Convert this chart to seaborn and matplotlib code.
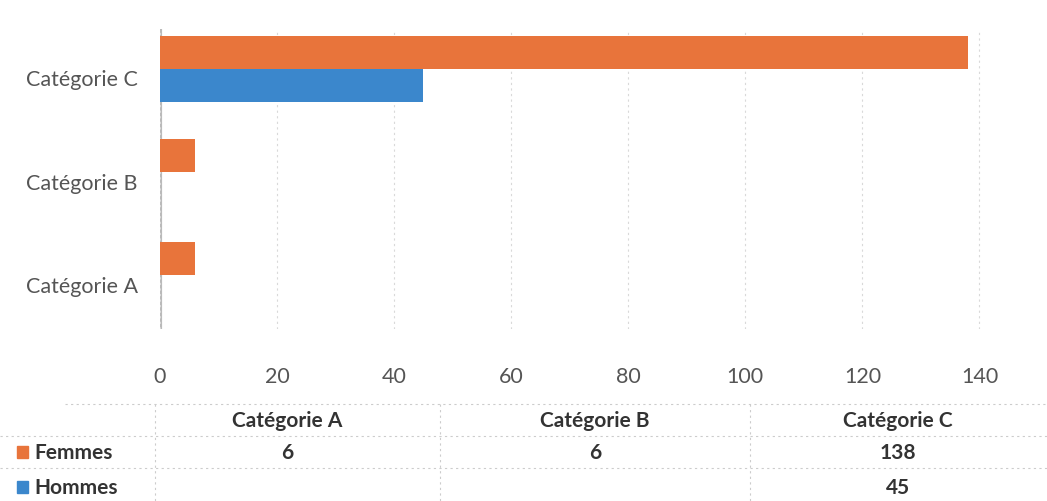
import matplotlib
matplotlib.use("Agg")
import matplotlib.pyplot as plt
import seaborn as sns
import pandas as pd
import numpy as np
from matplotlib.patches import Rectangle
from matplotlib.lines import Line2D

categories = ["Catégorie C", "Catégorie B", "Catégorie A"]
femmes = [138, 6, 6]
hommes = [45, np.nan, np.nan]
series = ["Femmes", "Hommes"]
xticks = [0, 20, 40, 60, 80, 100, 120, 140]
table_cols = ["Catégorie A", "Catégorie B", "Catégorie C"]
table_femmes = ["6", "6", "138"]
table_hommes = ["", "", "45"]

orange = "#E8743B"
blue = "#3B87CC"

df = pd.DataFrame({
    "cat": categories * 2,
    "val": femmes + hommes,
    "serie": ["Femmes"] * 3 + ["Hommes"] * 3,
})

sns.set_theme(style="white")
plt.rcParams["font.family"] = ["Lato", "DejaVu Sans"]

fig = plt.figure(figsize=(10.47, 5.02), dpi=100)
W, H = 1047, 502
ax = fig.add_axes([160 / W, 1 - 330 / H, (997 - 160) / W, 300 / H])

sns.barplot(data=df, x="val", y="cat", hue="serie", order=categories,
            hue_order=series, palette=[orange, blue], orient="h",
            width=0.64, ax=ax, legend=False, saturation=1)
for p in ax.patches:
    p.set_edgecolor("none")

ax.set_xlim(0, 143)
ax.set_ylim(2.52, -0.39)
ax.set_xticks(xticks)
ax.set_xticklabels([str(t) for t in xticks])
ax.set_yticks([0.08, 1.08, 2.08])
ax.set_yticklabels(categories)
ax.tick_params(axis="x", labelsize=15.5, colors="#555555", pad=27, length=0)
ax.tick_params(axis="y", labelsize=15.5, colors="#555555", pad=16, length=0)
ax.set_xlabel("")
ax.set_ylabel("")
for s in ax.spines.values():
    s.set_visible(False)
ax.grid(axis="x", color="#d9d9d9", linestyle=(0, (2, 3)), linewidth=0.8)
ax.set_axisbelow(True)
ax.axvline(0, color="#777777", linewidth=3, alpha=0.5, zorder=0)

# data table
def fx(px):
    return px / W

def fy(py):
    return 1 - py / H

line_kw = dict(color="#cccccc", linewidth=0.8, linestyle=(0, (2, 3)), transform=fig.transFigure)
fig.add_artist(Line2D([fx(65), 1], [fy(405), fy(405)], **line_kw))
fig.add_artist(Line2D([0, 1], [fy(437), fy(437)], **line_kw))
fig.add_artist(Line2D([0, 1], [fy(469), fy(469)], **line_kw))
for xv in [155, 440, 750]:
    fig.add_artist(Line2D([fx(xv), fx(xv)], [fy(405), 0], **line_kw))

col_centers = [287, 595, 898]
fs = 15
for xc, t in zip(col_centers, table_cols):
    fig.text(fx(xc), fy(421), t, ha="center", va="center", fontsize=fs,
             fontweight="bold", color="#333333")
for xc, t in zip(col_centers, table_femmes):
    fig.text(fx(xc), fy(453), t, ha="center", va="center", fontsize=fs,
             fontweight="bold", color="#333333")
for xc, t in zip(col_centers, table_hommes):
    if t:
        fig.text(fx(xc), fy(488), t, ha="center", va="center", fontsize=fs,
                 fontweight="bold", color="#333333")

for yc, name, col in [(453, "Femmes", orange), (488, "Hommes", blue)]:
    fig.add_artist(Rectangle((fx(17), fy(yc + 6)), 11 / W, 12 / H, color=col,
                             transform=fig.transFigure))
    fig.text(fx(34), fy(yc), name, ha="left", va="center", fontsize=fs,
             fontweight="bold", color="#333333")

fig.savefig("out.png", dpi=100, facecolor="white")
